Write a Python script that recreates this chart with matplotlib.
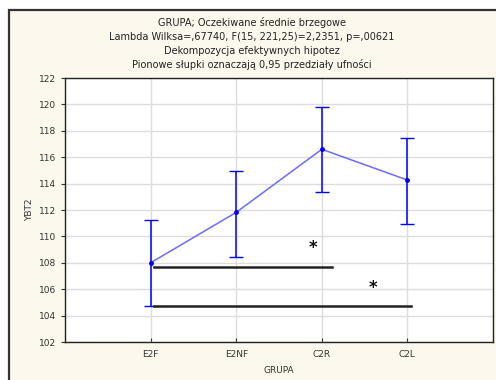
import matplotlib
matplotlib.use("Agg")
import matplotlib.pyplot as plt
from matplotlib.patches import Rectangle

groups = ["E2F", "E2NF", "C2R", "C2L"]
means = [108.0, 111.82, 116.6, 114.27]
lower = [104.73, 108.44, 113.36, 110.96]
upper = [111.24, 114.95, 119.83, 117.48]
yticks = [102, 104, 106, 108, 110, 112, 114, 116, 118, 120, 122]
title_lines = [
    "GRUPA; Oczekiwane średnie brzegowe",
    "Lambda Wilksa=,67740, F(15, 221,25)=2,2351, p=,00621",
    "Dekompozycja efektywnych hipotez",
    "Pionowe słupki oznaczają 0,95 przedziały ufności",
]
# significance bars: (x_start, x_end, y)
sig_bars = [(0.04, 2.12, 107.66), (0.04, 3.04, 104.7)]
sig_stars = [(1.9, 109.1), (2.6, 106.1)]

W, H = 496, 380
fig = plt.figure(figsize=(W / 100, H / 100), dpi=100)
fig.patch.set_facecolor("white")
bg = Rectangle((9 / W, -0.01), 1.0, (H - 10) / H + 0.01, transform=fig.transFigure,
               facecolor="#fdf8ed", edgecolor="#333333", linewidth=1.6, zorder=-10)
fig.patches.append(bg)

ax = fig.add_axes([65 / W, (H - 342) / H, (493 - 65) / W, (342 - 78) / H])
ax.set_zorder(5)
ax.set_facecolor("white")
x = list(range(len(groups)))
yerr_low = [m - l for m, l in zip(means, lower)]
yerr_up = [u - m for m, u in zip(means, upper)]
ax.plot(x, means, color="#6b6bff", linewidth=1.1, zorder=3)
ax.errorbar(x, means, yerr=[yerr_low, yerr_up], fmt="o", color="#0000ff",
            markersize=2.5, elinewidth=1.1, capsize=5, capthick=1.0, zorder=4)
for x0, x1, yv in sig_bars:
    ax.plot([x0, x1], [yv, yv], color="#222222", linewidth=1.8, zorder=5)
for xs, ys in sig_stars:
    ax.text(xs, ys, "*", fontsize=12, fontweight="bold", ha="center", va="center",
            color="#111111", zorder=6)

ax.set_xlim(-1, 4)
ax.set_ylim(102, 122)
ax.set_xticks(x)
ax.set_xticklabels(groups)
ax.set_yticks(yticks)
ax.grid(True, color="#dddddd", linewidth=1.0, zorder=0)
ax.set_axisbelow(True)
ax.tick_params(axis="both", labelsize=6.5, colors="#333333", length=3, width=0.8)
ax.tick_params(axis="y", direction="out")
ax.tick_params(axis="x", direction="in", pad=6)
for s in ax.spines.values():
    s.set_color("#222222")
    s.set_linewidth(1.0)
ax.set_xlabel("GRUPA", fontsize=6.5, color="#333333", labelpad=5)
ax.set_ylabel("YBT2", fontsize=6.5, color="#333333", labelpad=3)

ys_title = [22, 37, 51, 64]
for line, yy in zip(title_lines, ys_title):
    fig.text(252 / W, 1 - yy / H, line, fontsize=7, ha="center", va="center", color="#222222")

fig.savefig("out.png", dpi=100)
